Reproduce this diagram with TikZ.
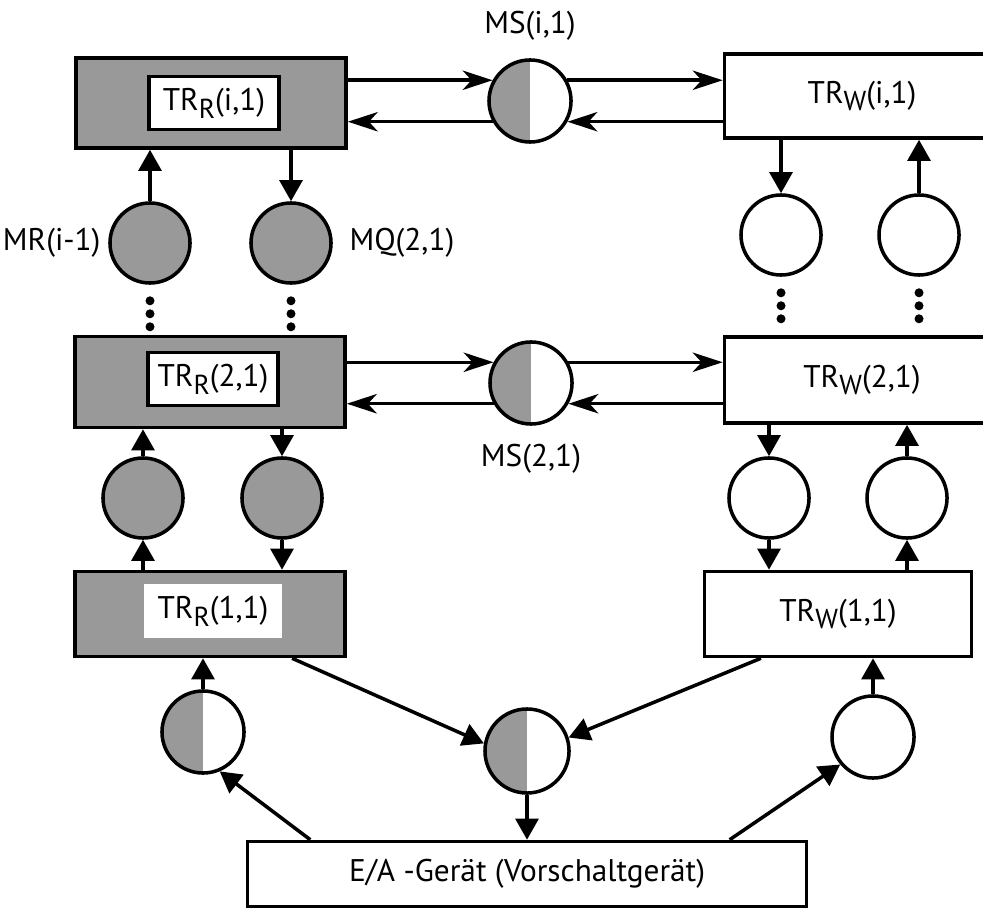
\documentclass[tikz,border=0pt]{standalone}
\usepackage{fontspec}
\setmainfont{PT Sans}
\usetikzlibrary{positioning,calc,arrows.meta}

% lowered index letter of the process names
\newcommand{\idx}[1]{\raisebox{-2.2pt}{\fontsize{7.8}{9}\selectfont #1}}

\begin{document}
\begin{tikzpicture}[x=0.01cm, y=-0.01cm, font=\fontsize{8.9}{11}\selectfont]
  \tikzstyle{box} = [draw=black, line width=1pt, inner sep=0pt];
  \tikzstyle{gray_box}  = [box, fill=black!40, minimum width=2.7cm];
  \tikzstyle{white_box} = [box, fill=white];
  \tikzstyle{name_box}  = [box, fill=white, minimum width=1.3cm, minimum height=0.53cm];
  \tikzstyle{place} = [circle, draw=black, line width=1pt, minimum size=0.8cm, inner sep=0pt];
  \tikzstyle{gray_place} = [place, fill=black!40];
  \tikzstyle{half_place} = [place, path picture={\fill[black!40] (path picture bounding box.south west) rectangle (path picture bounding box.north);}];
  \tikzstyle{flow}  = [line width=1pt, -{Triangle[length=6pt, width=6.5pt]}];
  \tikzstyle{hflow} = [line width=1pt, -{Stealth[length=8.5pt, width=5.5pt, inset=2.5pt]}];

  \useasboundingbox (0,0) rectangle (983,910);

  % level i
  \node[gray_box, minimum height=0.9cm] (trRi) at (211, 103) {};
  \node[name_box] (trRiName) at (214, 103) {TR\idx{R}(i,1)};
  \node[half_place, minimum size=0.82cm] (msi) at (530, 101) {};
  \node[inner sep=0pt, above=0.17cm of msi] (msiLabel) {MS(i,1)};
  \node[white_box, minimum width=2.75cm, minimum height=0.84cm] (trWi) at (862, 96) {TR\idx{W}(i,1)};

  \draw[hflow] (trRi.east |- msi.151) -- (msi.151);
  \draw[hflow] (msi.209) -- (trRi.east |- msi.209);
  \draw[hflow] (msi.29) -- (trWi.west |- msi.29);
  \draw[hflow] (trWi.west |- msi.331) -- (msi.331);

  \node[gray_place] (mr) at (150, 243) {};
  \node[gray_place] (mq) at (291, 243) {};
  \node[inner sep=0pt, left=0.07cm of mr] (mrLabel) {MR(i-1)};
  \node[inner sep=0pt, right=0.16cm of mq] (mqLabel) {MQ(2,1)};
  \node[place] (wi1) at (781, 235) {};
  \node[place] (wi2) at (919, 235) {};

  \draw[flow] (mr.north) -- (mr.north |- trRi.south);
  \draw[flow] (trRi.south -| mq.north) -- (mq.north);
  \draw[flow] (trWi.south -| wi1) -- (wi1.north);
  \draw[flow] (wi2.north) -- (trWi.south -| wi2);

  \foreach \n in {mr, mq, wi1, wi2}
    \foreach \dy in {16, 29, 42}
      \fill (\n.south) ++(0, \dy) circle (4.5);

  % level 2
  \node[gray_box, minimum height=0.91cm] (trR2) at (210, 382) {};
  \node[name_box] (trR2Name) at (213, 379) {TR\idx{R}(2,1)};
  \node[half_place, minimum size=0.82cm] (ms2) at (531, 383) {};
  \node[inner sep=0pt, below=0.18cm of ms2] (ms2Label) {MS(2,1)};
  \node[white_box, minimum width=2.75cm, minimum height=0.86cm] (trW2) at (862, 380) {TR\idx{W}(2,1)};

  \draw[hflow] (trR2.east |- ms2.151) -- (ms2.151);
  \draw[hflow] (ms2.209) -- (trR2.east |- ms2.209);
  \draw[hflow] (ms2.29) -- (trW2.west |- ms2.29);
  \draw[hflow] (trW2.west |- ms2.331) -- (ms2.331);

  \node[gray_place] (mr1) at (143, 498) {};
  \node[gray_place] (mq1) at (282, 498) {};
  \node[place] (wq1) at (769, 498) {};
  \node[place] (wr1) at (907, 498) {};

  % level 1
  \node[gray_box, minimum height=0.85cm] (trR1) at (210, 614) {};
  \node[fill=white, inner sep=0pt, minimum width=1.37cm, minimum height=0.53cm] (trR1Name) at (213, 611) {TR\idx{R}(1,1)};
  \node[white_box, minimum width=2.67cm, minimum height=0.85cm] (trW1) at (838, 614) {TR\idx{W}(1,1)};

  \draw[flow] (trR1.north -| mr1) -- (mr1.south);
  \draw[flow] (mr1.north) -- (trR2.south -| mr1);
  \draw[flow] (trR2.south -| mq1) -- (mq1.north);
  \draw[flow] (mq1.south) -- (trR1.north -| mq1);
  \draw[flow] (trW2.south -| wq1) -- (wq1.north);
  \draw[flow] (wq1.south) -- (trW1.north -| wq1);
  \draw[flow] (trW1.north -| wr1) -- (wr1.south);
  \draw[flow] (wr1.north) -- (trW2.south -| wr1);

  % device
  \node[half_place, minimum size=0.82cm] (ioL) at (203, 732) {};
  \node[half_place, minimum size=0.84cm] (ioS) at (527, 751) {};
  \node[place, minimum size=0.82cm] (ioR) at (873, 737) {};
  \node[white_box, minimum width=5.59cm, minimum height=0.65cm] (ea) at (527, 874) {E/A -Gerät (Vorschaltgerät)};

  \draw[flow] (ioL.north) -- (ioL.north |- trR1.south);
  \draw[flow] (ioR.north) -- (ioR.north |- trW1.south);
  \draw[flow] ($(trR1.south)!0.6!(trR1.south east)$) -- (ioS.170);
  \draw[flow] ($(trW1.south)!0.57!(trW1.south west)$) -- (ioS.18);
  \draw[flow] ($(ea.north)!0.77!(ea.north west)$) -- (ioL.293);
  \draw[flow] ($(ea.north)!0.72!(ea.north east)$) -- (ioR.220);
  \draw[flow] (ioS.south) -- (ea.north);
\end{tikzpicture}
\end{document}
